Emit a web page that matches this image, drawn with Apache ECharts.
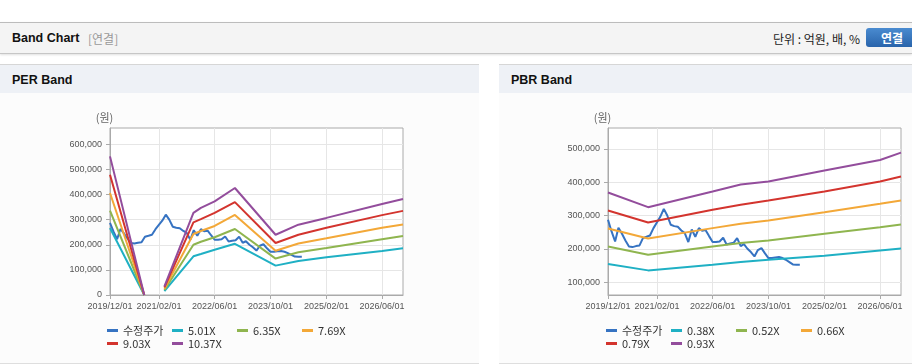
<!DOCTYPE html>
<html>
<head>
<meta charset="utf-8">
<script src="https://cdn.jsdelivr.net/npm/echarts@6/dist/echarts.min.js"></script>
<style>
  body { margin: 0; width: 912px; height: 364px; overflow: hidden; background: #fff; position: relative;
         font-family: "Noto Sans CJK KR", "Liberation Sans", sans-serif; }
  .topbar { position: absolute; left: 0; top: 22px; width: 912px; height: 30px; background: #f4f4f4;
            border-top: 1px solid #bcbcbc; border-bottom: 1px solid #c6c6c6; box-shadow: 0 1px 2px rgba(0,0,0,0.12); }
  .topbar .ttl { position: absolute; left: 12px; top: 0; font-family: "Liberation Sans", sans-serif; font-weight: bold;
                 font-size: 12.5px; line-height: 31px; color: #111; }
  .topbar .sub { position: absolute; left: 88px; top: 0; line-height: 31px; font-size: 12px; color: #999; }
  .topbar .unit { position: absolute; right: 52px; top: 0; line-height: 31px; font-size: 12px; color: #222; }
  .topbar .btn { position: absolute; left: 866px; top: 5px; width: 52px; height: 19px; border-radius: 3px;
                 background: linear-gradient(#4a8bd0, #2964ab); color: #fff; font-weight: bold; font-size: 12px;
                 line-height: 19px; text-align: center; }
  .panel { position: absolute; top: 64px; height: 298px; background: #fcfcfc; border-top: 1px solid #d6d6d6; border-bottom: 1px solid #dedede; }
  .panel .hd { height: 28px; background: #eef1f6; font-family: "Liberation Sans", sans-serif; font-weight: bold;
               font-size: 12.5px; color: #111; line-height: 30px; padding-left: 12px; }
  .chart { position: absolute; top: 93px; height: 270px; }
</style>
</head>
<body>
<div class="topbar">
  <span class="ttl">Band Chart</span><span class="sub">[연결]</span>
  <span class="unit">단위 : 억원, 배, %</span>
  <div class="btn">연결</div>
</div>
<div class="panel" style="left:0;width:479px;"><div class="hd">PER Band</div></div>
<div class="panel" style="left:499px;width:413px;"><div class="hd">PBR Band</div></div>
<div id="per-chart" class="chart" style="left:0;width:479px;"></div>
<div id="pbr-chart" class="chart" style="left:499px;width:413px;"></div>

<script>
// 축 눈금
const xTicks = ['2019/12/01', '2021/02/01', '2022/06/01', '2023/10/01', '2025/02/01', '2026/06/01'];
const xMin = '2019/12/01';
const xMax = '2026/12/01';
const perYTicks = [0, 100000, 200000, 300000, 400000, 500000, 600000];
const pbrYTicks = [100000, 200000, 300000, 400000, 500000];

// 수정주가 (월별, 2019/12 ~ 2024/07)
const priceStart = '2019/12/01';
const price = [287000, 252000, 222000, 263000, 245000, 225000, 207000, 205000, 208000, 210000,
  232000, 236000, 240000, 262000, 280000, 296000, 320000, 300000, 272000, 268000,
  266000, 255000, 247000, 220000, 258000, 236000, 262000, 254000, 256000, 238000,
  220000, 220000, 222000, 233000, 213000, 216000, 218000, 232000, 208000, 214000,
  200000, 190000, 177000, 196000, 202000, 186000, 172000, 172000, 174000, 175000,
  172000, 167000, 160000, 153000, 152000, 152000];

// PER 밴드
const perNames = ['5.01X', '6.35X', '7.69X', '9.03X', '10.37X'];
const perDates = ['2019/12/01', '2020/09/25', '2021/01/01', '2021/03/20', '2021/11/28', '2022/02/01',
  '2022/06/01', '2022/11/25', '2023/11/15', '2024/06/01', '2025/02/01', '2026/06/01', '2026/12/01'];
const per501 = [267000, 0, null, 15000, 154000, 163000, 180000, 204000, 117000, 135000, 150000, 175000, 186000];
const per635 = [336000, 0, null, 20000, 200000, 212000, 230000, 263000, 145000, 170000, 187000, 222000, 235000];
const per769 = [406000, 0, null, 25000, 243000, 255000, 275000, 319000, 176000, 205000, 226000, 268000, 281000];
const per903 = [479000, 0, null, 30000, 289000, 302000, 327000, 370000, 207000, 240000, 268000, 318000, 335000];
const per1037 = [552000, 0, null, 34000, 327000, 347000, 373000, 426000, 240000, 280000, 307000, 362000, 382000];

// PBR 밴드
const pbrNames = ['0.38X', '0.52X', '0.66X', '0.79X', '0.93X'];
const pbrDates = ['2019/12/01', '2020/11/15', '2022/06/01', '2023/02/01', '2023/10/01', '2025/02/01', '2026/06/01', '2026/12/01'];
const pbr038 = [154000, 135000, 152000, 160000, 167000, 179000, 195000, 201000];
const pbr052 = [207000, 182000, 207000, 217000, 225000, 245000, 265000, 273000];
const pbr066 = [261000, 231000, 262000, 275000, 285000, 310000, 335000, 345000];
const pbr079 = [315000, 279000, 317000, 332000, 345000, 372000, 402000, 417000];
const pbr093 = [369000, 325000, 372000, 393000, 402000, 435000, 467000, 489000];

const colors = ['#3673c2', '#1fb0c4', '#8fb54f', '#f3a838', '#d3342e', '#934d9c'];
const axisFont = 'Liberation Sans';

function ts(s) { return new Date(s).getTime(); }
function pad(n) { return n < 10 ? '0' + n : '' + n; }
function fmtDate(v) {
  const d = new Date(v);
  return d.getFullYear() + '/' + pad(d.getMonth() + 1) + '/' + pad(d.getDate());
}

// 월별 주가 -> [시간, 값]
function priceData() {
  const s = new Date(priceStart);
  return price.map((v, i) => [new Date(s.getFullYear(), s.getMonth() + i, 1).getTime(), v]);
}
function pairs(dates, vals) {
  return dates.map((d, i) => [ts(d), vals[i]]);
}

function lineSeries(name, data, color) {
  return {
    name: name, type: 'line', data: data, showSymbol: false, symbol: 'none',
    connectNulls: false, lineStyle: { width: 2, color: color }, itemStyle: { color: color },
    emphasis: { disabled: true }
  };
}

function mkLegend(names, top) {
  return {
    data: names, left: 107, top: top, orient: 'horizontal', padding: 0,
    icon: 'rect', itemWidth: 11, itemHeight: 3, itemGap: 3, selectedMode: false,
    textStyle: { fontFamily: 'Noto Sans CJK KR', fontSize: 11, color: '#333', width: 46, lineHeight: 13 }
  };
}

function buildOption(yMin, yMax, yTicks, gridLeft, seriesList, legendRows) {
  const xTickVals = xTicks.map(ts);
  return {
    animation: false,
    color: colors,
    grid: { left: gridLeft, top: 35, width: 293, height: 167, show: true, borderColor: '#aaa', borderWidth: 1,
            backgroundColor: '#fff', outerBoundsMode: 'none' },
    xAxis: {
      type: 'value', min: ts(xMin), max: ts(xMax),
      axisLine: { show: true, lineStyle: { color: '#aaa', width: 1 } },
      axisTick: { show: true, length: 4, customValues: xTickVals, lineStyle: { color: '#aaa' } },
      axisLabel: { customValues: xTickVals, formatter: fmtDate, fontFamily: axisFont, fontSize: 9, color: '#555', margin: 7 },
      splitLine: { show: true, lineStyle: { color: '#e6e6e6', width: 1 } }
    },
    yAxis: {
      type: 'value', min: yMin, max: yMax,
      name: '(원)', nameLocation: 'end', nameGap: 5,
      nameTextStyle: { fontFamily: 'Noto Sans CJK KR', fontSize: 11, color: '#666', align: 'center', padding: [0, 11, 0, 0] },
      axisLine: { show: true, lineStyle: { color: '#aaa', width: 1 } },
      axisTick: { show: true, length: 4, customValues: yTicks, lineStyle: { color: '#aaa' } },
      axisLabel: { customValues: yTicks, formatter: v => v.toLocaleString('en-US'), fontFamily: axisFont,
                   fontSize: 9, color: '#555', margin: 8 },
      splitLine: { show: true, lineStyle: { color: '#e6e6e6', width: 1 } }
    },
    legend: [mkLegend(legendRows[0], 231), mkLegend(legendRows[1], 244)],
    series: seriesList
  };
}

const perChart = echarts.init(document.getElementById('per-chart'));
perChart.setOption(buildOption(0, 665000, perYTicks, 110, [
  lineSeries('수정주가', priceData(), colors[0]),
  lineSeries(perNames[0], pairs(perDates, per501), colors[1]),
  lineSeries(perNames[1], pairs(perDates, per635), colors[2]),
  lineSeries(perNames[2], pairs(perDates, per769), colors[3]),
  lineSeries(perNames[3], pairs(perDates, per903), colors[4]),
  lineSeries(perNames[4], pairs(perDates, per1037), colors[5])
], [['수정주가', perNames[0], perNames[1], perNames[2]], [perNames[3], perNames[4]]]));

const pbrChart = echarts.init(document.getElementById('pbr-chart'));
pbrChart.setOption(buildOption(61000, 563000, pbrYTicks, 109, [
  lineSeries('수정주가', priceData(), colors[0]),
  lineSeries(pbrNames[0], pairs(pbrDates, pbr038), colors[1]),
  lineSeries(pbrNames[1], pairs(pbrDates, pbr052), colors[2]),
  lineSeries(pbrNames[2], pairs(pbrDates, pbr066), colors[3]),
  lineSeries(pbrNames[3], pairs(pbrDates, pbr079), colors[4]),
  lineSeries(pbrNames[4], pairs(pbrDates, pbr093), colors[5])
], [['수정주가', pbrNames[0], pbrNames[1], pbrNames[2]], [pbrNames[3], pbrNames[4]]]));
</script>
</body>
</html>
